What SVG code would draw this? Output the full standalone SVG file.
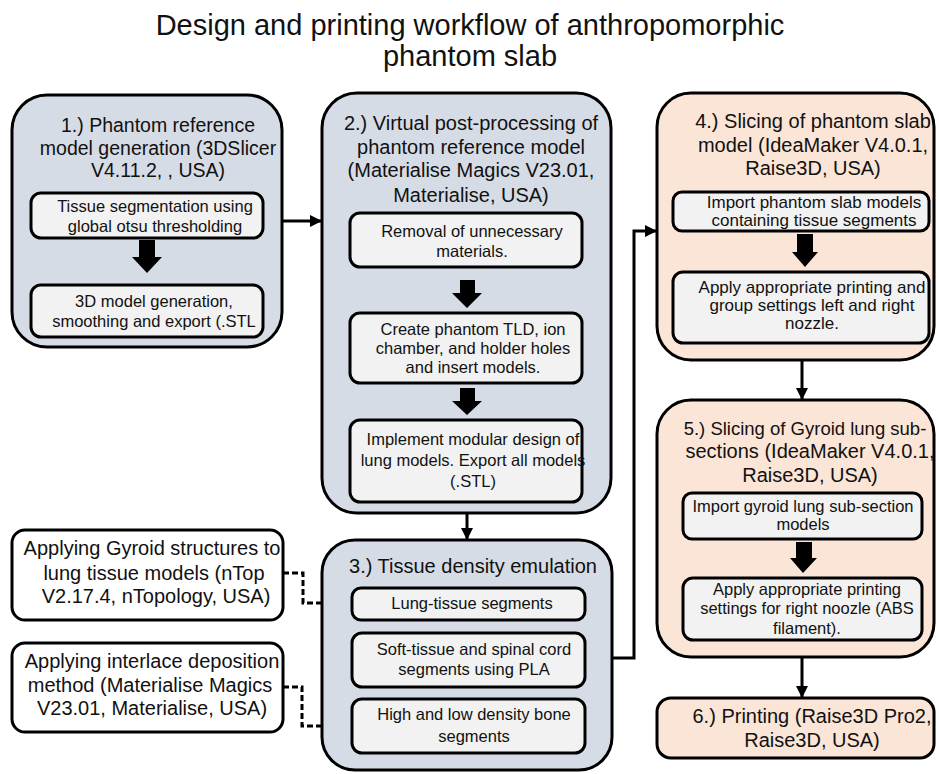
<svg xmlns="http://www.w3.org/2000/svg" width="939" height="774" viewBox="0 0 939 774">
<style>
text { font-family: "Liberation Sans", Arial, sans-serif; fill: #111; text-anchor: middle; }
.title { font-size: 29px; }
.h { font-size: 20px; }
.h1 { font-size: 19.5px; }
.s { font-size: 16.5px; }
.s4 { font-size: 17px; }
.ob { fill: #D6DCE5; stroke: #000; stroke-width: 3; }
.op { fill: #FBE5D6; stroke: #000; stroke-width: 3; }
.in { fill: #F2F2F2; stroke: #000; stroke-width: 3; }
.side { fill: #FFFFFF; stroke: #000; stroke-width: 3; }
.ba { fill: #000; }
.conn { fill: none; stroke: #000; stroke-width: 3; }
.dash { stroke-dasharray: 6 3; }
</style>
<defs>
<marker id="ah" markerUnits="userSpaceOnUse" markerWidth="12" markerHeight="12" refX="11" refY="6" orient="auto">
<path d="M0,0 L12,6 L0,12 z" fill="#000"/>
</marker>
</defs>

<g id="title">
<text class="title" x="470" y="35">Design and printing workflow of anthropomorphic</text>
<text class="title" x="470" y="66">phantom slab</text>
</g>

<g id="connectors">
<path class="conn" d="M282,221 L321,221" marker-end="url(#ah)"/>
<path class="conn" d="M467,513 L467,539" marker-end="url(#ah)"/>
<path class="conn" d="M612,658 L634,658 L634,231 L656,231" marker-end="url(#ah)"/>
<path class="conn" d="M802,360 L802,399" marker-end="url(#ah)"/>
<path class="conn" d="M802,657 L802,697" marker-end="url(#ah)"/>
<path class="conn dash" d="M283,573 L303,573 L303,603 L351,603" marker-end="url(#ah)"/>
<path class="conn dash" d="M283,687 L302,687 L302,726 L351,726" marker-end="url(#ah)"/>
</g>

<g id="node1">
<rect class="ob" x="12" y="95" width="270" height="252" rx="35"/>
<text class="h1" x="158" y="132">1.) Phantom reference</text>
<text class="h1" x="158" y="155">model generation (3DSlicer</text>
<text class="h1" x="158" y="177">V4.11.2, , USA)</text>
<rect class="in" x="31" y="193" width="232" height="45" rx="10"/>
<text class="s" x="155" y="212">Tissue segmentation using</text>
<text class="s" x="155" y="232">global otsu thresholding</text>
<path class="ba" d="M139,240 H155 V257 H162 L147,273 L132,257 H139 Z"/>
<rect class="in" x="31" y="285" width="232" height="52" rx="10"/>
<text class="s" x="154" y="307">3D model generation,</text>
<text class="s" x="154" y="327">smoothing and export (.STL</text>
</g>

<g id="node2">
<rect class="ob" x="322" y="93" width="289" height="420" rx="35"/>
<text class="h" x="471" y="130">2.) Virtual post-processing of</text>
<text class="h" x="471" y="154">phantom reference model</text>
<text class="h" x="471" y="177">(Materialise Magics V23.01,</text>
<text class="h" x="471" y="202">Materialise, USA)</text>
<rect class="in" x="350" y="213" width="232" height="54" rx="10"/>
<text class="s" x="472" y="237">Removal of unnecessary</text>
<text class="s" x="472" y="257">materials.</text>
<path class="ba" d="M460,280 H475 V293 H482 L467,308 L452,293 H460 Z"/>
<rect class="in" x="350" y="313" width="232" height="70" rx="10"/>
<text class="s" x="473" y="335">Create phantom TLD, ion</text>
<text class="s" x="473" y="354">chamber, and holder holes</text>
<text class="s" x="473" y="373">and insert models.</text>
<path class="ba" d="M460,388 H475 V401 H482 L467,415 L452,401 H460 Z"/>
<rect class="in" x="350" y="420" width="232" height="82" rx="10"/>
<text class="s" x="473" y="445">Implement modular design of</text>
<text class="s" x="473" y="466">lung models. Export all models</text>
<text class="s" x="473" y="487">(.STL)</text>
</g>

<g id="node3">
<rect class="ob" x="322" y="540" width="290" height="230" rx="33"/>
<text class="h" x="473" y="573">3.) Tissue density emulation</text>
<rect class="in" x="352" y="588" width="233" height="32" rx="9"/>
<text class="s" x="472" y="609">Lung-tissue segments</text>
<rect class="in" x="352" y="633" width="233" height="54" rx="10"/>
<text class="s" x="474" y="655">Soft-tissue and spinal cord</text>
<text class="s" x="474" y="675">segments using PLA</text>
<rect class="in" x="352" y="699" width="233" height="54" rx="10"/>
<text class="s" x="474" y="720">High and low density bone</text>
<text class="s" x="474" y="742">segments</text>
</g>

<g id="node4">
<rect class="op" x="657" y="93" width="277" height="267" rx="34"/>
<text class="h" x="813" y="128">4.) Slicing of phantom slab</text>
<text class="h" x="813" y="152">model (IdeaMaker V4.0.1,</text>
<text class="h" x="813" y="175">Raise3D, USA)</text>
<rect class="in" x="673" y="192" width="256" height="39" rx="9"/>
<text class="s4" x="814" y="208">Import phantom slab models</text>
<text class="s4" x="814" y="226">containing tissue segments</text>
<path class="ba" d="M797,234 H813 V252 H818 L805,267 L792,252 H797 Z"/>
<rect class="in" x="673" y="272" width="256" height="71" rx="10"/>
<text class="s4" x="812" y="293">Apply appropriate printing and</text>
<text class="s4" x="812" y="311">group settings left and right</text>
<text class="s4" x="812" y="329">nozzle.</text>
</g>

<g id="node5">
<rect class="op" x="657" y="400" width="277" height="257" rx="34"/>
<text class="h" x="805" y="435" style="font-size:18.5px">5.) Slicing of Gyroid lung sub-</text>
<text class="h" x="810" y="458">sections (IdeaMaker V4.0.1,</text>
<text class="h" x="810" y="482">Raise3D, USA)</text>
<rect class="in" x="683" y="493" width="239" height="46" rx="9"/>
<text class="s" x="803" y="512">Import gyroid lung sub-section</text>
<text class="s" x="803" y="530">models</text>
<path class="ba" d="M796,542 H812 V558 H817 L803,573 L790,558 H796 Z"/>
<rect class="in" x="683" y="578" width="239" height="62" rx="10"/>
<text class="s" x="807" y="595">Apply appropriate printing</text>
<text class="s" x="807" y="614">settings for right noozle (ABS</text>
<text class="s" x="807" y="634">filament).</text>
</g>

<g id="node6">
<rect class="op" x="657" y="698" width="277" height="60" rx="14"/>
<text class="h" x="812" y="723">6.) Printing (Raise3D Pro2,</text>
<text class="h" x="812" y="747">Raise3D, USA)</text>
</g>

<g id="nodeGyroid">
<rect class="side" x="12" y="530" width="271" height="90" rx="13"/>
<text class="h" x="152" y="555">Applying Gyroid structures to</text>
<text class="h" x="154" y="580">lung tissue models (nTop</text>
<text class="h" x="156" y="603">V2.17.4, nTopology, USA)</text>
</g>

<g id="nodeInterlace">
<rect class="side" x="12" y="643" width="271" height="89" rx="13"/>
<text class="h" x="152" y="668">Applying interlace deposition</text>
<text class="h" x="150" y="692">method (Materialise Magics</text>
<text class="h" x="152" y="715">V23.01, Materialise, USA)</text>
</g>
</svg>
